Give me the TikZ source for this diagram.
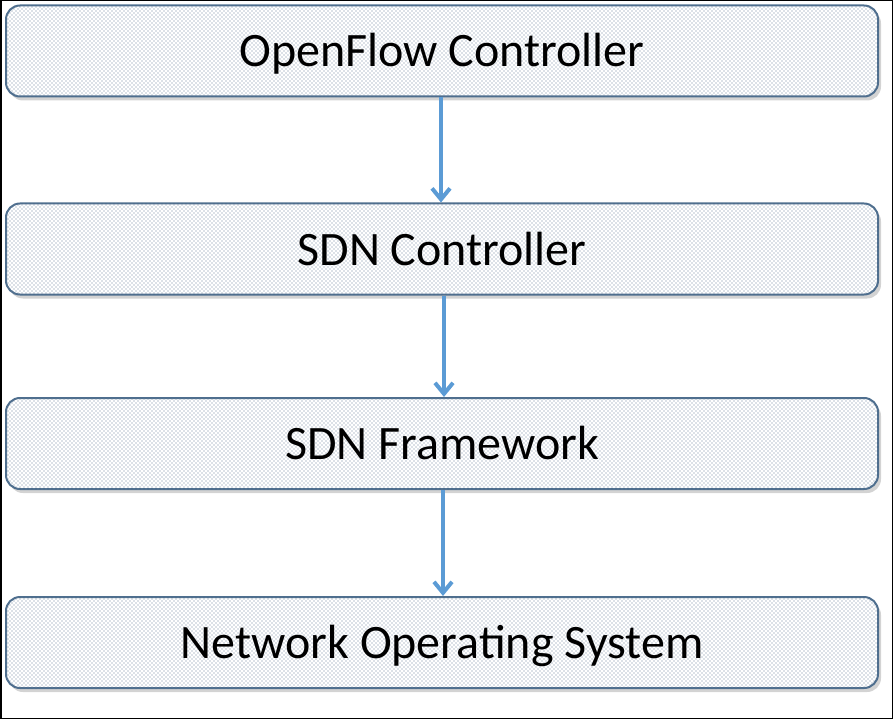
\documentclass[tikz,border=0pt]{standalone}
\usepackage{fontspec}
\setmainfont{Carlito}
\usetikzlibrary{patterns,shadows,arrows.meta}
\definecolor{boxedge}{HTML}{4E6E8E}
\definecolor{dotcol}{HTML}{6A8098}
\definecolor{arrowcol}{HTML}{5B9BD5}
\pgfdeclarepatternformonly{bigdots}{\pgfqpoint{-1pt}{-1pt}}{\pgfqpoint{5pt}{5pt}}{\pgfqpoint{4pt}{4pt}}{%
  \pgfpathcircle{\pgfqpoint{0pt}{0pt}}{0.7pt}\pgfusepath{fill}%
  \pgfpathcircle{\pgfqpoint{2pt}{2pt}}{0.7pt}\pgfusepath{fill}%
}
\tikzset{
  layer/.style={draw=boxedge, line width=2pt, rounded corners=14pt,
    minimum width=872pt, minimum height=91pt, inner sep=0pt,
    font=\fontsize{48}{52}\selectfont, text height=38pt, text depth=6pt,
    fill=white,
    drop shadow={shadow xshift=3pt, shadow yshift=-4pt, opacity=0.35, fill=gray},
    postaction={pattern=bigdots, pattern color=dotcol}},
  link/.style={draw=arrowcol, line width=4pt, -{Straight Barb[length=11pt,width=18pt,line width=4pt]}}
}
\begin{document}
\begin{tikzpicture}[x=1pt,y=-1pt]
\useasboundingbox (0,0) rectangle (893,719);
\draw[black, line width=1.5pt] (0.75,0.75) rectangle (892.25,718.25);
\node[layer] (a) at (442,51) {OpenFlow Controller};
\node[layer] (b) at (442,249) {SDN Controller};
\node[layer] (c) at (442,443.5) {SDN Framework};
\node[layer] (d) at (442,642.5) {Network Operating System};
\draw[link] (a.south) ++(-1,0) coordinate (a1) -- (a1 |- b.north);
\draw[link] (b.south) ++(2,0) coordinate (b1) -- (b1 |- c.north);
\draw[link] (c.south) ++(1,0) coordinate (c1) -- (c1 |- d.north);
\end{tikzpicture}
\end{document}
